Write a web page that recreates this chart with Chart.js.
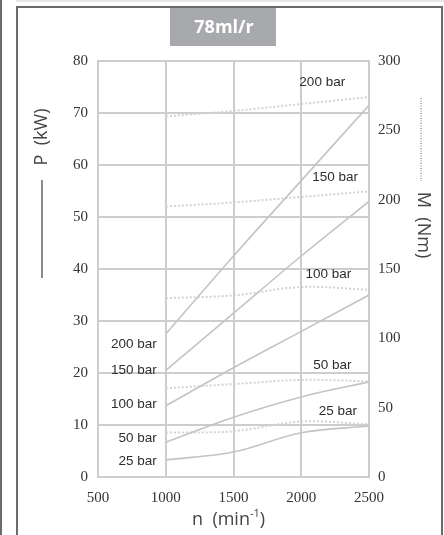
<!DOCTYPE html>
<html>
<head>
<meta charset="utf-8">
<script src="https://cdn.jsdelivr.net/npm/chart.js@4.4.1/dist/chart.umd.min.js"></script>
<style>
  html, body { margin: 0; padding: 0; background: #fff; }
  #wrap { width: 444px; height: 535px; position: relative; }
</style>
</head>
<body>
<div id="wrap"><canvas id="myChart" width="444" height="535"></canvas></div>
<script>
// speed (min-1)
const rpm = [1000, 1500, 2000, 2500];
// power P (kW), solid lines
const power200 = [27.5, 42.5, 57, 71.5];
const power150 = [20.5, 31.5, 42.5, 53];
const power100 = [13.7, 21, 28, 35];
const power50 = [6.7, 11.5, 15.4, 18.3];
const power25 = [3.3, 4.8, 8.5, 9.8];
// torque M (Nm), dotted lines
const torque200 = [260, 264, 269, 274];
const torque150 = [195, 198, 202, 206];
const torque100 = [129, 131, 137, 135];
const torque50 = [64, 67, 70, 69];
const torque25 = [32, 33, 40, 38];
// pressure labels: [text, n, P]
const leftLabels = [["200 bar", 1000, 25.5], ["150 bar", 1000, 20.6], ["100 bar", 1000, 13.9], ["50 bar", 1000, 7.5], ["25 bar", 1000, 3.1]];
const rightLabels = [["200 bar", 2155, 76], ["150 bar", 2250, 57.7], ["100 bar", 2200, 39], ["50 bar", 2230, 21.5], ["25 bar", 2270, 12.7]];
const xTicks = [500, 1000, 1500, 2000, 2500];

function pts(vals){
  return rpm.map((n, i) => ({x: n, y: vals[i]}));
}

function powerSet(vals){
  return {data: pts(vals), yAxisID: "y", borderColor: "#c4c4c4", borderWidth: 1.6, pointRadius: 0, tension: 0.35, fill: false};
}
function torqueSet(vals){
  return {data: pts(vals), yAxisID: "y2", borderColor: "#d2d2d2", borderWidth: 2, borderDash: [2, 2], pointRadius: 0, tension: 0.35, fill: false};
}

const decor = {
  id: "decor",
  beforeDraw(chart){
    const c = chart.ctx;
    c.save();
    c.fillStyle = "#fff";
    c.fillRect(0, 0, 444, 535);
    // panel frame
    c.fillStyle = "#e6e6e6";
    c.fillRect(16, 0, 428, 2);
    c.fillStyle = "#6a6a6a";
    c.fillRect(0, 0, 2, 535);
    c.fillRect(16, 6, 2, 529);
    c.fillRect(16, 6, 427, 2);
    c.fillRect(441, 6, 2, 529);
    // title box
    c.fillStyle = "#a7a9ac";
    c.fillRect(170, 8, 106, 38);
    c.fillStyle = "#fff";
    c.font = "bold 18px 'Open Sans'";
    c.textAlign = "center";
    c.textBaseline = "middle";
    c.fillText("78ml/r", 224, 28);
    c.restore();
  },
  afterDraw(chart){
    const c = chart.ctx;
    const xs = chart.scales.x, ys = chart.scales.y;
    c.save();
    c.fillStyle = "#2e2e2e";
    c.font = "13.5px 'Liberation Sans Narrow', 'Liberation Sans'";
    c.textBaseline = "middle";
    c.textAlign = "right";
    leftLabels.forEach(l => c.fillText(l[0], xs.getPixelForValue(l[1]) - 9, ys.getPixelForValue(l[2])));
    c.textAlign = "center";
    rightLabels.forEach(l => c.fillText(l[0], xs.getPixelForValue(l[1]), ys.getPixelForValue(l[2])));

    // axis titles
    c.fillStyle = "#444";
    c.font = "18px 'Open Sans'";
    c.save();
    c.translate(42, 137);
    c.rotate(-Math.PI / 2);
    c.fillText("P  (kW)", 0, 0);
    c.restore();
    c.strokeStyle = "#666";
    c.lineWidth = 1.5;
    c.beginPath();
    c.moveTo(42, 180);
    c.lineTo(42, 278);
    c.stroke();

    c.save();
    c.translate(423, 225);
    c.rotate(Math.PI / 2);
    c.fillText("M  (Nm)", 0, 0);
    c.restore();
    c.lineWidth = 1;
    c.setLineDash([1, 1.5]);
    c.beginPath();
    c.moveTo(421, 98);
    c.lineTo(421, 181);
    c.stroke();
    c.setLineDash([]);

    c.font = "18px 'Open Sans'";
    c.textAlign = "left";
    const x0 = 192;
    c.fillText("n  (min", x0, 520);
    const w = c.measureText("n  (min").width;
    c.font = "11px 'Open Sans'";
    c.fillText("-1", x0 + w, 514);
    const w2 = c.measureText("-1").width;
    c.font = "18px 'Open Sans'";
    c.fillText(")", x0 + w + w2, 520);
    c.restore();
  }
};

const tickFont = {family: "'Liberation Serif'", size: 15};

new Chart(document.getElementById("myChart"), {
  type: "line",
  data: {
    datasets: [
      powerSet(power200), powerSet(power150), powerSet(power100), powerSet(power50), powerSet(power25),
      torqueSet(torque200), torqueSet(torque150), torqueSet(torque100), torqueSet(torque50), torqueSet(torque25)
    ]
  },
  options: {
    responsive: false,
    animation: false,
    layout: {padding: {top: 61, left: 0, right: 0, bottom: 0}},
    plugins: {legend: {display: false}, tooltip: {enabled: false}},
    scales: {
      x: {
        type: "linear", min: 500, max: 2500,
        afterBuildTicks: (s) => { s.ticks = xTicks.map(v => ({value: v})); },
        afterFit: (s) => { s.height = 58; },
        grid: {color: "#cdcdcd", lineWidth: 2, drawTicks: false},
        border: {color: "#cdcdcd", width: 2},
        ticks: {color: "#333", font: tickFont, padding: 12, maxRotation: 0, callback: (v) => String(v)}
      },
      y: {
        position: "left", min: 0, max: 80,
        ticks: {stepSize: 10, color: "#333", font: tickFont, padding: 10},
        afterFit: (s) => { s.width = 98; },
        grid: {color: "#cdcdcd", lineWidth: 2, drawTicks: false},
        border: {color: "#cdcdcd", width: 2}
      },
      y2: {
        position: "right", min: 0, max: 300,
        ticks: {stepSize: 50, color: "#333", font: tickFont, padding: 9},
        afterFit: (s) => { s.width = 75; },
        grid: {display: false, drawTicks: false},
        border: {color: "#cdcdcd", width: 2}
      }
    }
  },
  plugins: [decor]
});
</script>
</body>
</html>
